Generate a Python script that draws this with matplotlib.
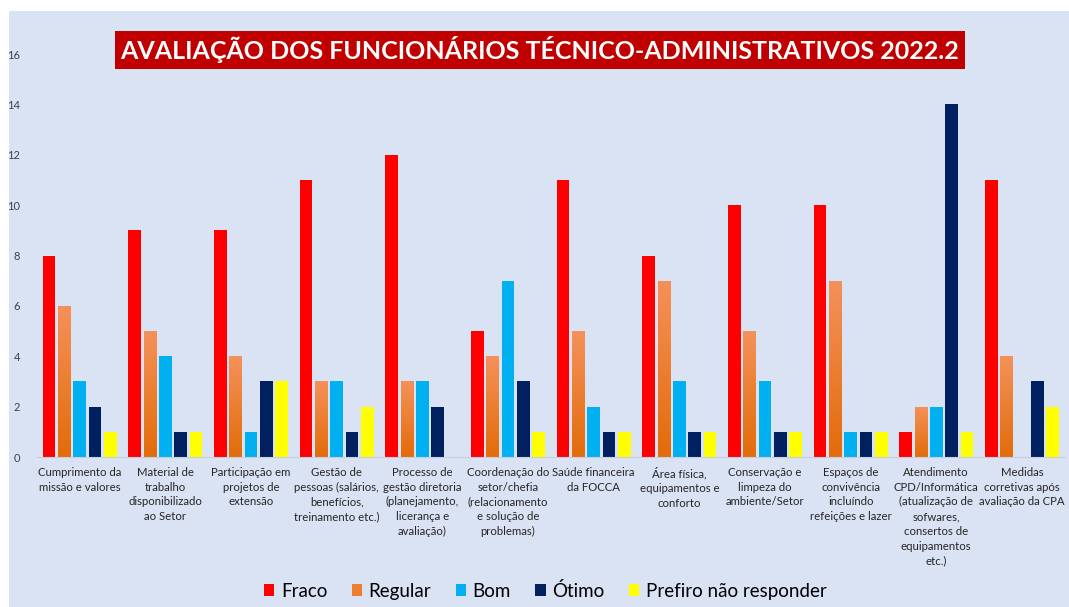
import numpy as np
import matplotlib.pyplot as plt
from matplotlib.patches import Rectangle
from matplotlib.colors import LinearSegmentedColormap

categorias = [
    "Cumprimento da\nmissão e valores",
    "Material de\ntrabalho\ndisponibilizado\nao Setor",
    "Participação em\nprojetos de\nextensão",
    "Gestão de\npessoas (salários,\nbenefícios,\ntreinamento etc.)",
    "Processo de\ngestão diretoria\n(planejamento,\nlicerança e\navaliação)",
    "Coordenação do\nsetor/chefia\n(relacionamento\ne solução de\nproblemas)",
    "Saúde financeira\nda FOCCA",
    "Área física,\nequipamentos e\nconforto",
    "Conservação e\nlimpeza do\nambiente/Setor",
    "Espaços de\nconvivência\nincluíndo\nrefeições e lazer",
    "Atendimento\nCPD/Informática\n(atualização de\nsofwares,\nconsertos de\nequipamentos\netc.)",
    "Medidas\ncorretivas após\navaliação da CPA",
]
fraco = [8, 9, 9, 11, 12, 5, 11, 8, 10, 10, 1, 11]
regular = [6, 5, 4, 3, 3, 4, 5, 7, 5, 7, 2, 4]
bom = [3, 4, 1, 3, 3, 7, 2, 3, 3, 1, 2, 0]
otimo = [2, 1, 3, 1, 2, 3, 1, 1, 1, 1, 14, 3]
prefiro = [1, 1, 3, 2, 0, 1, 1, 1, 1, 1, 1, 2]

series = [("Fraco", fraco, "#ff0000"),
          ("Regular", regular, "#ed7d31"),
          ("Bom", bom, "#00b0f0"),
          ("Ótimo", otimo, "#002060"),
          ("Prefiro não responder", prefiro, "#ffff00")]

plt.rcParams['font.family'] = ['Lato', 'DejaVu Sans']

fig = plt.figure(figsize=(10.69, 6.07), dpi=100, facecolor="white")
# painel azul claro atrás de tudo
painel = Rectangle((9 / 1069, 0), 1, 1 - 11 / 607, transform=fig.transFigure,
                   facecolor="#dae3f3", edgecolor="none", zorder=-10)
fig.add_artist(painel)

ax = fig.add_axes([0.0346, 0.247, 0.9614, 0.664])
ax.set_facecolor("none")

x = np.arange(len(categorias))
slot = 0.179
largura = 0.148
laranja = LinearSegmentedColormap.from_list("lar", ["#e36c0a", "#f4915a"])
grad = np.linspace(0, 1, 64).reshape(-1, 1)

for i, (nome, vals, cor) in enumerate(series):
    pos = x + (i - 2) * slot
    barras = ax.bar(pos, vals, width=largura, color=cor, label=nome, zorder=2)
    if nome == "Regular":
        for b in barras:
            h = b.get_height()
            if h <= 0:
                continue
            im = ax.imshow(grad, cmap=laranja, aspect="auto", origin="lower",
                           extent=(b.get_x(), b.get_x() + b.get_width(), 0, h), zorder=2.5)
            im.set_clip_path(b)

ax.set_xlim(-0.5, len(categorias) - 0.5)
ax.set_ylim(0, 16)
ax.set_yticks(range(0, 17, 2))
ax.set_xticks(x)
ax.set_xticklabels(categorias, fontsize=8.2, color="#262626", linespacing=1.42)
ax.tick_params(axis="y", labelsize=8, colors="#404040", length=0, pad=12)
ax.tick_params(axis="x", length=0, pad=7)
for s in ["top", "right", "left"]:
    ax.spines[s].set_visible(False)
ax.spines["bottom"].set_color("#c8cfdc")

fig.text(0.505, 0.918, "AVALIAÇÃO DOS FUNCIONÁRIOS TÉCNICO-ADMINISTRATIVOS 2022.2",
         ha="center", va="center", color="white", fontsize=18, fontweight="bold",
         bbox=dict(boxstyle="square,pad=0.22", facecolor="#c00000", edgecolor="none"))

handles, labels = ax.get_legend_handles_labels()
fig.legend(handles, labels, loc="center", bbox_to_anchor=(0.51, 0.027), ncol=5,
           frameon=False, fontsize=13.5, handlelength=0.55, handleheight=0.55,
           handletextpad=0.35, columnspacing=1.3)

fig.savefig("out.png", dpi=100, facecolor="white")
